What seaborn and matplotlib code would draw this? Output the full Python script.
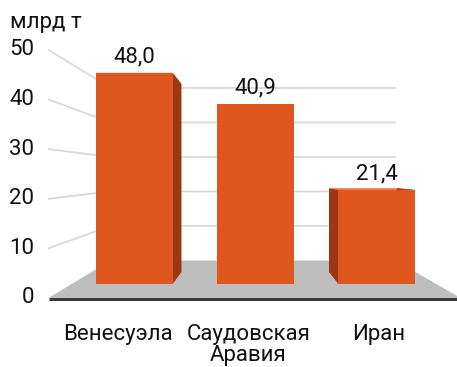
import matplotlib
matplotlib.use("Agg")
import matplotlib.pyplot as plt
from matplotlib.patches import Polygon
import seaborn as sns

# Oil reserves by country, billion tonnes
countries = ["Венесуэла", "Саудовская\nАравия", "Иран"]
reserves = [48.0, 40.9, 21.4]
y_ticks = [0, 10, 20, 30, 40, 50]
unit_label = "млрд т"

FRONT = "#e0561f"
SIDE = "#9c3712"
TOP = "#ea6d36"
FLOOR = "#bdbdbd"
GRID = "#d9d9d9"
TEXT = "#111111"
FS = 16

sns.set_theme(style="white")
plt.rcParams["font.family"] = ["Roboto", "DejaVu Sans"]

fig = plt.figure(figsize=(4.57, 3.67), dpi=100)
ax = fig.add_axes([0, 0, 1, 1])

BAR_W = 0.63
sns.barplot(x=countries, y=reserves, color=FRONT, saturation=1, width=BAR_W,
            ax=ax, zorder=5, linewidth=0)

ax.set_xlim(-1.1116, 2.6653)
ax.set_ylim(-18.86, 64.55)
ax.set_axis_off()

# simple perspective: points recede towards a vanishing point;
# s is the scale factor of a depth plane relative to the bar fronts
XV, VV = 0.98, 24.8
S_FRONT, S_BACK, S_BAR_BACK = 1.127, 0.784, 0.89
S_LAB, LAB_SHIFT = 1.08, -0.06
FLOOR_X = (-0.52, 2.48)


def proj(x, v, s):
    return XV + (x - XV) * s, VV + (v - VV) * s


# floor plate
floor = [proj(FLOOR_X[0], 0, S_FRONT), proj(FLOOR_X[1] + 0.02, 0, S_FRONT),
         proj(FLOOR_X[1], 0, S_BACK), proj(FLOOR_X[0], 0, S_BACK)]
ax.add_patch(Polygon(floor, closed=True, facecolor=FLOOR, edgecolor="none", zorder=1))
fx0, fy0 = proj(FLOOR_X[0], 0, S_FRONT)
fx1, _ = proj(3.2, 0, S_FRONT)
ax.plot([fx0, fx1], [fy0 - 0.25, fy0 - 0.25], color="#3a3a3a", lw=2.2,
        solid_capstyle="butt", zorder=2)

# left wall and back wall gridlines
for v in y_ticks[1:]:
    p0 = proj(FLOOR_X[0], v, S_FRONT)
    p1 = proj(FLOOR_X[0], v, S_BACK)
    p2 = proj(FLOOR_X[1], v, S_BACK)
    ax.plot([p0[0], p1[0], p2[0]], [p0[1], p1[1], p2[1]], color=GRID, lw=1.3,
            zorder=0.5)

# value axis labels on the front edge of the left wall
for v in y_ticks:
    x, y = proj(FLOOR_X[0], v, S_FRONT)
    ax.annotate(str(v), (x, y), xytext=(-10.5, 0), textcoords="offset points",
                ha="right", va="center", fontsize=FS, color=TEXT)

# top faces first, then side faces, both behind the front faces
for bar in ax.patches[:len(reserves)]:
    xl, w, h = bar.get_x(), bar.get_width(), bar.get_height()
    xr = xl + w
    top = [proj(xl, h, 1), proj(xr, h, 1), proj(xr, h, S_BAR_BACK),
           proj(xl, h, S_BAR_BACK)]
    ax.add_patch(Polygon(top, closed=True, facecolor=TOP, edgecolor="none",
                         zorder=3.8))
    for xe in (xl, xr):
        face = [proj(xe, 0, 1), proj(xe, h, 1), proj(xe, h, S_BAR_BACK),
                proj(xe, 0, S_BAR_BACK)]
        ax.add_patch(Polygon(face, closed=True, facecolor=SIDE,
                             edgecolor="none", zorder=4))

# value labels above the bars
labels = [f"{v:.1f}".replace(".", ",") for v in reserves]
ax.bar_label(ax.containers[0], labels=labels, padding=4, fontsize=FS,
             color=TEXT)

# category labels below the floor
for i, name in enumerate(countries):
    x, _ = proj(i, 0, S_LAB)
    ax.annotate(name, (x + LAB_SHIFT, fy0), xytext=(0, -18.5),
                textcoords="offset points", ha="center", va="top",
                fontsize=FS, color=TEXT, linespacing=1.0)

fig.text(10 / 457, 1 - 28 / 367, unit_label, ha="left", va="baseline",
         fontsize=FS, color=TEXT)

fig.savefig("out.png", dpi=100)
